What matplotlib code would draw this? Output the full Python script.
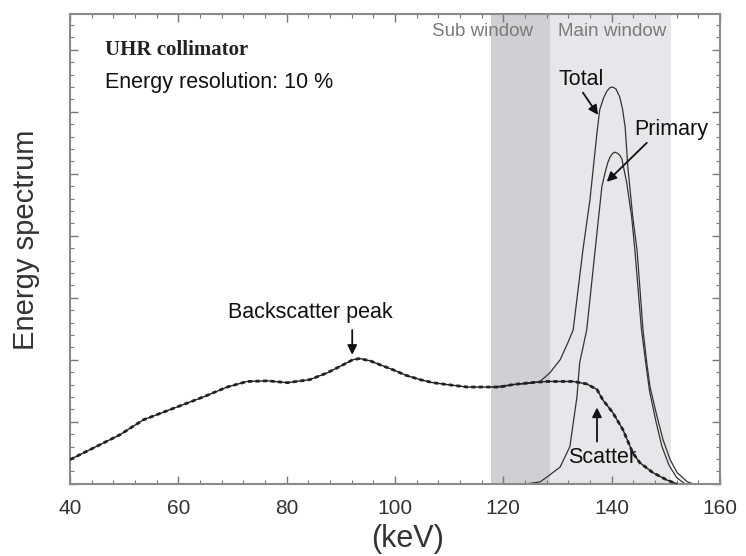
import numpy as np
import matplotlib
matplotlib.use("Agg")
import matplotlib.pyplot as plt
from matplotlib.ticker import MultipleLocator

plt.rcParams['font.family'] = ['Liberation Sans', 'DejaVu Sans']

# energy windows (keV)
sub_window = (117.8, 128.6)
main_window = (128.6, 150.9)

# scatter component (also the total below ~125 keV)
scatter_kev = [40, 49.2, 53.5, 59.8, 64.6, 69.0, 72.7, 76.5, 80.1, 84.3, 87.5, 90.0,
               92.2, 93.5, 95.5, 97.2, 99.6, 102.0, 104.6, 107.0, 109.6, 113.3, 115.7,
               119.4, 121.8, 125.0, 128.1, 132.9, 135.4, 137.3, 138.4, 140.2, 142.1,
               143.9, 145.2, 147.6, 150.2, 152.0]
scatter_val = [0.39, 0.79, 1.03, 1.24, 1.40, 1.56, 1.65, 1.66, 1.63, 1.68, 1.79, 1.90,
               2.00, 2.02, 1.98, 1.92, 1.84, 1.75, 1.68, 1.63, 1.60, 1.56, 1.56,
               1.56, 1.60, 1.63, 1.65, 1.65, 1.61, 1.52, 1.35, 1.15, 0.87,
               0.50, 0.34, 0.18, 0.06, 0.0]

# total (from the flat part onwards)
total_kev = [118.0, 122.0, 125.0, 126.8, 128.6, 130.5, 131.9, 132.9, 134.7, 136.0,
             137.3, 137.8, 138.5, 139.1, 139.7, 140.2, 140.8, 141.5, 142.0, 142.5,
             143.0, 143.9, 144.7, 145.8, 146.5, 147.1, 148.4, 149.5, 150.8, 152.1,
             154.0, 155.0]
total_val = [1.56, 1.60, 1.62, 1.65, 1.79, 2.00, 2.27, 2.48, 3.77, 4.58,
             5.66, 6.03, 6.22, 6.33, 6.39, 6.40, 6.37, 6.24, 6.05, 5.76,
             5.11, 4.31, 3.77, 2.48, 1.95, 1.56, 1.08, 0.71, 0.39, 0.18,
             0.03, 0.0]

# primary photons
primary_kev = [124.5, 126.8, 128.1, 130.5, 132.3, 133.6, 134.1, 135.4, 137.3, 138.2,
               138.8, 139.3, 139.7, 140.2, 140.6, 141.1, 141.5, 141.9, 142.8, 143.7,
               144.3, 145.5, 146.3, 147.0, 148.2, 149.3, 150.6, 152.0, 153.5]
primary_val = [0.0, 0.03, 0.11, 0.27, 0.60, 1.40, 1.95, 2.48, 4.05, 4.79,
               5.02, 5.18, 5.27, 5.33, 5.35, 5.33, 5.30, 5.24, 4.85, 4.31,
               3.77, 2.50, 1.95, 1.50, 1.00, 0.60, 0.30, 0.10, 0.0]

fig = plt.figure(figsize=(7.46, 5.56), dpi=100)
ax = fig.add_axes([0.094, 0.13, 0.871, 0.845])

ax.axvspan(*sub_window, color='#cfcfd4', lw=0, zorder=0)
ax.axvspan(*main_window, color='#e7e7eb', lw=0, zorder=0)

ax.plot(total_kev, total_val, color='#333333', lw=0.9, zorder=2)
ax.plot(primary_kev, primary_val, color='#333333', lw=0.9, zorder=2)
ax.plot(scatter_kev, scatter_val, color='#222222', lw=1.0, zorder=3)
ax.plot(scatter_kev, scatter_val, color='#222222', lw=2.0, ls=(0, (1.5, 1.2)), zorder=3)

ax.set_xlim(40, 160)
ax.set_ylim(0, 7.58)
ax.xaxis.set_major_locator(MultipleLocator(20))
ax.xaxis.set_minor_locator(MultipleLocator(4))
ax.yaxis.set_major_locator(MultipleLocator(1))
ax.yaxis.set_minor_locator(MultipleLocator(0.2))
ax.set_yticklabels([])
ax.tick_params(which='both', direction='in', top=True, right=True, color='#777777')
ax.tick_params(which='major', length=6, width=1.0)
ax.tick_params(which='minor', length=3, width=0.8)
ax.tick_params(axis='x', labelsize=15, labelcolor='#333333', pad=11)
for s in ax.spines.values():
    s.set_color('#8a8a8a')
    s.set_linewidth(1.5)

ax.set_xlabel('(keV)', fontsize=22, color='#333333')
ax.xaxis.set_label_coords(0.52, -0.085)
ax.set_ylabel('Energy spectrum', fontsize=21, color='#333333')
ax.yaxis.set_label_coords(-0.047, 0.52)

ax.text(0.054, 0.923, 'UHR collimator', transform=ax.transAxes, fontsize=15,
        fontweight='bold', family='Liberation Serif', color='#222222', va='center')
ax.text(0.054, 0.855, 'Energy resolution: 10 %', transform=ax.transAxes, fontsize=15.5,
        color='#111111', va='center')
ax.text(0.634, 0.962, 'Sub window', transform=ax.transAxes, fontsize=13.5,
        color='#7a7a7a', va='center', ha='center')
ax.text(0.834, 0.962, 'Main window', transform=ax.transAxes, fontsize=13.5,
        color='#7a7a7a', va='center', ha='center')

arrow = dict(arrowstyle='-|>', color='#111111', lw=1.3, mutation_scale=14,
             shrinkA=0, shrinkB=0)
ax.text(134.3, 6.52, 'Total', fontsize=15.5, ha='center', va='center', color='#111111')
ax.annotate('', xy=(137.5, 5.95), xytext=(134.7, 6.31), arrowprops=arrow)
ax.text(151.1, 5.71, 'Primary', fontsize=15.5, ha='center', va='center', color='#111111')
ax.annotate('', xy=(139.1, 4.87), xytext=(146.5, 5.5), arrowprops=arrow)
ax.text(84.3, 2.76, 'Backscatter peak', fontsize=15.5, ha='center', va='center',
        color='#111111')
ax.annotate('', xy=(92.1, 2.08), xytext=(92.1, 2.48), arrowprops=arrow)
ax.annotate('', xy=(137.3, 1.23), xytext=(137.3, 0.68), arrowprops=arrow)
ax.text(138.2, 0.42, 'Scatter', fontsize=15.5, ha='center', va='center', color='#111111')

fig.savefig('out.png', dpi=100)
